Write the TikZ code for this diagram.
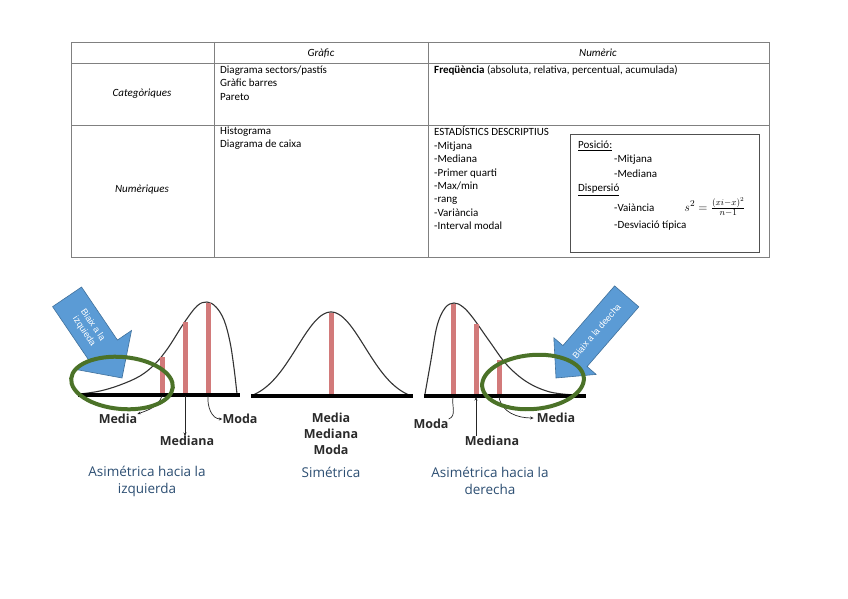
\documentclass[tikz,border=0pt]{standalone}
\usepackage{fontspec}
\setmainfont{Carlito}
\newfontfamily\figfont{Open Sans}
\newfontfamily\calloutfont{Liberation Sans}
\usetikzlibrary{arrows.meta}

\definecolor{gridgray}{HTML}{808080}
\definecolor{boxgray}{HTML}{505050}
\definecolor{barred}{HTML}{D27A7A}
\definecolor{ringgreen}{HTML}{4B7228}
\definecolor{calloutblue}{HTML}{5B9BD5}
\definecolor{calloutedge}{HTML}{41719C}
\definecolor{titleblue}{HTML}{2C4E72}
\definecolor{labelgray}{HTML}{2A2A2A}

\tikzset{
  grid/.style={draw=gridgray, line width=0.9pt},
  celltext/.style={font=\fontsize{11}{13.4}\selectfont, inner sep=0pt, align=left},
  headtext/.style={font=\fontsize{11}{13.4}\selectfont\itshape, inner sep=0pt},
  axisline/.style={line width=3.5pt, black},
  curve/.style={line width=1.1pt, black!80},
  bar/.style={line width=5pt, barred},
  ring/.style={line width=4pt, ringgreen},
  callout/.style={fill=calloutblue, draw=calloutedge, line width=0.6pt},
  callouttext/.style={font=\calloutfont\fontsize{9}{10.5}\selectfont, text=white, align=center, inner sep=0pt},
  measure/.style={font=\figfont\bfseries\fontsize{12.5}{16}\selectfont, text=labelgray, inner sep=0pt, align=center},
  shapetitle/.style={font=\figfont\fontsize{13.5}{17}\selectfont, text=titleblue, inner sep=0pt, align=center},
  pointer/.style={-{Stealth[length=3.5pt,width=3pt]}, line width=0.7pt, black!85}
}

\begin{document}
\begin{tikzpicture}[x=1pt,y=-1pt]
  \useasboundingbox (0,0) rectangle (848,599);

  % table frame
  \draw[grid] (71,42) rectangle (769,257);
  \draw[grid] (214,42) -- (214,257);
  \draw[grid] (428,42) -- (428,257);
  \draw[grid] (71,63) -- (769,63);
  \draw[grid] (71,125) -- (769,125);

  % headers
  \node[headtext] (grafic) at (321,53) {Gràfic};
  \node[headtext] (numeric) at (598,53) {Numèric};
  \node[headtext] (categ) at (142,94) {Categòriques};
  \node[headtext] (numer) at (142,190) {Numèriques};

  % cells
  \node[celltext, anchor=north west] (catgraf) at (220,65.5) {Diagrama sectors/pastís\\Gràfic barres\\Pareto};
  \node[celltext, anchor=north west] (catnum) at (434,65.5) {\textbf{Freqüència} (absoluta, relativa, percentual, acumulada)};
  \node[celltext, anchor=north west] (numgraf) at (220,126.5) {Histograma\\Diagrama de caixa};
  \node[celltext, anchor=north west] (numnum) at (434,126.5) {ESTADÍSTICS DESCRIPTIUS\\-Mitjana\\-Mediana\\-Primer quarti\\-Max/min\\-rang\\-Variància\\-Interval modal};

  % summary box
  \draw[draw=boxgray, line width=0.9pt] (570,134) rectangle (759,252);
  \node[celltext, anchor=west] (posicio) at (578,146) {\underline{Posició:}};
  \node[celltext, anchor=west] (mitjana) at (614,160) {-Mitjana};
  \node[celltext, anchor=west] (mediana) at (614,174) {-Mediana};
  \node[celltext, anchor=west] (dispersio) at (578,190) {\underline{Dispersió}};
  \node[celltext, anchor=west] (variancia) at (614,208) {-Vaiància};
  \node[inner sep=0pt, font=\fontsize{12.5}{14}\selectfont] (formula) at (715,207) {$s^2=\frac{(xi-x)^2}{n-1}$};
  \node[celltext, anchor=west] (desviacio) at (614,226) {-Desviació típica};

  % callout arrows
  \begin{scope}[shift={(122,378)}, rotate=-55.9]
    \draw[callout] (0,0) -- (-34,34.5) -- (-34,17.5) -- (-98,17.5) -- (-98,-17.5) -- (-34,-17.5) -- (-34,-34.5) -- cycle;
    \node[callouttext, rotate=-55.9] (leftnote) at (-60,0) {Biaix a la\\izquieda};
  \end{scope}
  \begin{scope}[shift={(556,378)}, rotate=-130.9]
    \draw[callout] (0,0) -- (-29,28) -- (-29,16) -- (-108,16) -- (-108,-16) -- (-29,-16) -- (-29,-28) -- cycle;
    \node[callouttext, rotate=49.1] (rightnote) at (-62,0) {Biaix a la deecha};
  \end{scope}

  % left skewed curve
  \draw[curve] plot[smooth, tension=0.6] coordinates {(80,394) (100,391) (120,385) (140,376) (155,364) (168,348) (184,323) (197,306) (207,302) (216,307) (224,320) (230,342) (234,368) (237,394)};
  \coordinate (lbar1) at (162,396);
  \coordinate (lbar2) at (185,396);
  \coordinate (lbar3) at (208,396);
  \draw[bar] (lbar1) -- (162,357);
  \draw[bar] (lbar2) -- (185,322);
  \draw[bar] (lbar3) -- (208,303);
  \draw[axisline] (78,395) -- (240,395);

  % symmetric curve
  \draw[curve] plot[domain=-78:78, samples=70, smooth] ({331+\x},{395-83*(exp(-((\x/34)^2)/2)-0.072)/0.928});
  \coordinate (mbar) at (331,396);
  \draw[bar] (mbar) -- (331,313);
  \draw[axisline] (251,396) -- (413,396);

  % right skewed curve
  \draw[curve] plot[smooth, tension=0.6] coordinates {(425,394) (431,360) (437,326) (445,308) (454,303) (463,307) (473,318) (490,342) (507,365) (527,382) (550,392) (575,395)};
  \coordinate (rbar1) at (453,397);
  \coordinate (rbar2) at (476,397);
  \coordinate (rbar3) at (499,397);
  \draw[bar] (rbar1) -- (453,304);
  \draw[bar] (rbar2) -- (476,324);
  \draw[bar] (rbar3) -- (499,360);
  \draw[axisline] (424,396) -- (586,396);

  % measure labels
  \node[measure] (lmedia) at (118,419) {Media};
  \node[measure] (lmediana) at (187,441) {Mediana};
  \node[measure] (lmoda) at (240,419) {Moda};
  \node[measure] (mlabels) at (331,434) {Media\\Mediana\\Moda};
  \node[measure] (rmoda) at (431,424) {Moda};
  \node[measure] (rmediana) at (492,441) {Mediana};
  \node[measure] (rmedia) at (556,418) {Media};

  \draw[pointer] (lbar1) to[out=-110, in=20] (lmedia.north east);
  \draw[pointer] (lbar2) -- (lbar2 |- lmediana.north);
  \draw[pointer] (lbar3) to[out=-95, in=180] (lmoda.west);
  \draw[line width=0.7pt, black!85] (rbar1) to[out=-100, in=20] (rmoda.north east);
  \draw[pointer] (rbar2 |- rmediana.north) -- (rbar2);
  \draw[pointer] (rbar3) to[out=-80, in=180] ([xshift=-3pt]rmedia.west);

  % titles
  \node[shapetitle] (lefttitle) at (147,481) {Asimétrica hacia la\\izquierda};
  \node[shapetitle] (midtitle) at (331,472) {Simétrica};
  \node[shapetitle] (righttitle) at (490,481) {Asimétrica hacia la\\derecha};

  % rings on the tails
  \draw[ring, rotate around={-5:(122,383)}] (122,383) ellipse [x radius=51, y radius=26];
  \draw[ring, rotate around={5:(533,382)}] (533,382) ellipse [x radius=51, y radius=27];
\end{tikzpicture}
\end{document}
